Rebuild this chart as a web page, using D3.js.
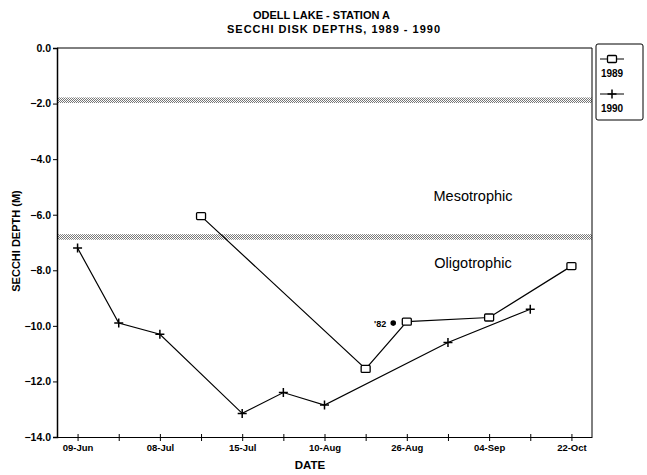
<!DOCTYPE html>
<html>
<head>
<meta charset="utf-8">
<script src="https://cdn.jsdelivr.net/npm/d3@7"></script>
<style>
  body { margin: 0; background: #fff; }
  svg { display: block; font-family: "Liberation Sans", Arial, sans-serif; }
</style>
</head>
<body>
<svg id="chart" width="647" height="475"></svg>
<script>
// Sampling slots along the date axis (labels on every other slot)
const dateLabels = ["09-Jun", "", "08-Jul", "", "15-Jul", "", "10-Aug", "", "26-Aug", "", "04-Sep", "", "22-Oct"];
const depthTicks = [0, -2, -4, -6, -8, -10, -12, -14];

// 1989 series: slot index and Secchi depth (m)
const slots1989 = [3, 7, 8, 10, 12];
const depth1989 = [-6.05, -11.55, -9.85, -9.7, -7.85];

// 1990 series
const slots1990 = [0, 1, 2, 4, 5, 6, 9, 11];
const depth1990 = [-7.2, -9.9, -10.3, -13.15, -12.4, -12.85, -10.6, -9.4];

// Single 1982 reading
const slot1982 = 7.67;
const depth1982 = -9.9;

// Trophic boundary bands (depth ranges, m)
const bandTops = [-1.78, -6.7];
const bandBottoms = [-1.98, -6.9];
const zoneNames = ["Mesotrophic", "Oligotrophic"];
const zoneDepths = [-5.5, -7.9];

const svg = d3.select("#chart");
const plotL = 57, plotR = 592, plotT = 48, plotB = 437;

const x = d3.scaleLinear().domain([-0.5, 12.5]).range([plotL, plotR]);
const y = d3.scaleLinear().domain([0, -14]).range([plotT, plotB]);

// Dithered fill for the boundary bands
const defs = svg.append("defs");
const pat = defs.append("pattern").attr("id", "dither")
  .attr("width", 2).attr("height", 2).attr("patternUnits", "userSpaceOnUse");
pat.append("rect").attr("width", 2).attr("height", 2).attr("fill", "#fff");
pat.append("rect").attr("width", 1).attr("height", 1).attr("fill", "#777");
pat.append("rect").attr("x", 1).attr("y", 1).attr("width", 1).attr("height", 1).attr("fill", "#777");

svg.selectAll("rect.band").data(bandTops).join("rect")
  .attr("class", "band")
  .attr("x", plotL).attr("width", plotR - plotL)
  .attr("y", d => y(d))
  .attr("height", (d, i) => y(bandBottoms[i]) - y(d))
  .attr("fill", "url(#dither)");

// Frame: top and right edges
svg.append("path")
  .attr("d", `M${plotL},${plotT}H${plotR}V${plotB}`)
  .attr("fill", "none").attr("stroke", "#000").attr("stroke-width", 1);

// Y axis
const yAxis = svg.append("g").attr("transform", `translate(${plotL},0)`)
  .call(d3.axisLeft(y).tickValues(depthTicks).tickFormat(d3.format(".1f")).tickSize(4).tickPadding(2));
yAxis.select(".domain").attr("stroke-width", 1.5);
yAxis.selectAll("text").attr("font-size", 10.5).attr("font-weight", "bold").attr("fill", "#000");

// X axis
const xAxis = svg.append("g").attr("transform", `translate(0,${plotB})`)
  .call(d3.axisBottom(x).tickValues(d3.range(dateLabels.length)).tickFormat(i => dateLabels[i]).tickSize(4).tickSizeOuter(0).tickPadding(3));
xAxis.select(".domain").attr("stroke-width", 1.2);
xAxis.selectAll(".tick line").attr("y1", -3);
xAxis.selectAll("text").attr("font-size", 9.5).attr("font-weight", "bold").attr("fill", "#000");

// Axis titles
svg.append("text").attr("x", 310).attr("y", 469).attr("text-anchor", "middle")
  .attr("font-size", 11.5).attr("font-weight", "bold").text("DATE");
svg.append("text").attr("transform", "translate(20,241) rotate(-90)").attr("text-anchor", "middle")
  .attr("font-size", 11).attr("font-weight", "bold").text("SECCHI DEPTH (M)");

// Chart title
const title = svg.append("text").attr("font-size", 11).attr("font-weight", "bold");
title.append("tspan").attr("x", 253).attr("y", 19).attr("textLength", 137)
  .attr("lengthAdjust", "spacing").text("ODELL LAKE - STATION A");
title.append("tspan").attr("x", 227).attr("y", 33).attr("textLength", 213)
  .attr("lengthAdjust", "spacing").text("SECCHI DISK DEPTHS, 1989 - 1990");

// Zone labels
svg.selectAll("text.zone").data(zoneNames).join("text")
  .attr("class", "zone")
  .attr("x", 473).attr("y", (d, i) => y(zoneDepths[i]))
  .attr("text-anchor", "middle").attr("font-size", 14.5).text(d => d);

const line = d3.line();

// Series lines
const pts1989 = slots1989.map((s, i) => [x(s), y(depth1989[i])]);
const pts1990 = slots1990.map((s, i) => [x(s), y(depth1990[i])]);
svg.append("path").attr("d", line(pts1989)).attr("fill", "none").attr("stroke", "#000").attr("stroke-width", 1.2);
svg.append("path").attr("d", line(pts1990)).attr("fill", "none").attr("stroke", "#000").attr("stroke-width", 1.2);

// Markers
function square(g, cx, cy) {
  g.append("rect").attr("x", cx - 4.5).attr("y", cy - 3.5).attr("width", 9).attr("height", 7)
    .attr("rx", 1).attr("fill", "#fff").attr("stroke", "#000").attr("stroke-width", 1.3);
}
function plus(g, cx, cy) {
  g.append("path").attr("d", `M${cx - 4.5},${cy}H${cx + 4.5}M${cx},${cy - 4.5}V${cy + 4.5}`)
    .attr("stroke", "#000").attr("stroke-width", 1.5);
}
const marks = svg.append("g");
pts1989.forEach(p => square(marks, p[0], p[1]));
pts1990.forEach(p => plus(marks, p[0], p[1]));

// 1982 reading
svg.append("circle").attr("cx", x(slot1982)).attr("cy", y(depth1982)).attr("r", 2.8).attr("fill", "#000");
svg.append("text").attr("x", x(slot1982) - 7).attr("y", y(depth1982) + 3.5)
  .attr("text-anchor", "end").attr("font-size", 9).attr("font-weight", "bold").text("'82");

// Legend
const lg = svg.append("g");
lg.append("rect").attr("x", 596).attr("y", 44).attr("width", 47).attr("height", 76)
  .attr("rx", 2).attr("fill", "#fff").attr("stroke", "#000").attr("stroke-width", 1);
lg.append("line").attr("x1", 600).attr("x2", 624).attr("y1", 59).attr("y2", 59).attr("stroke", "#000");
square(lg, 612, 59);
lg.append("text").attr("x", 612).attr("y", 77).attr("text-anchor", "middle")
  .attr("font-size", 10).attr("font-weight", "bold").text("1989");
lg.append("line").attr("x1", 600).attr("x2", 624).attr("y1", 94).attr("y2", 94).attr("stroke", "#000");
plus(lg, 612, 94);
lg.append("text").attr("x", 612).attr("y", 112).attr("text-anchor", "middle")
  .attr("font-size", 10).attr("font-weight", "bold").text("1990");
</script>
</body>
</html>
